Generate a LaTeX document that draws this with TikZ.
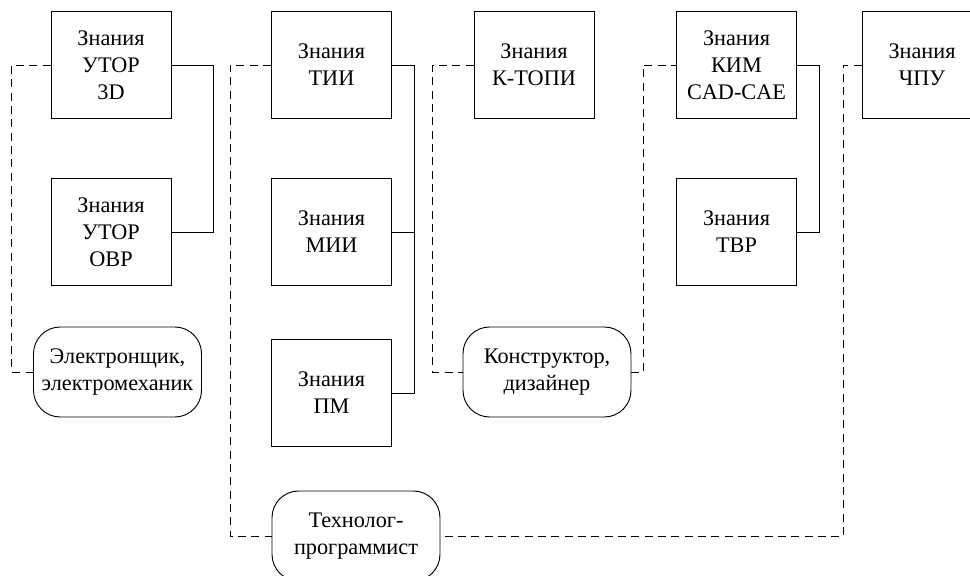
\documentclass[tikz,border=0pt]{standalone}
\usepackage{fontspec}
\setmainfont{Liberation Serif}
\usetikzlibrary{calc, positioning}

\begin{document}
\begin{tikzpicture}[% styles used in image code
  x = 0.3mm, y = -0.3mm,
box/.style  = {draw, line width=0.8pt,
               minimum width=36mm, minimum height=32mm,
               inner sep=0pt, align=center,
               font=\fontsize{19}{23}\selectfont},
role/.style = {draw, line width=0.8pt, rounded corners=8mm,
               minimum width=50.4mm, minimum height=27mm,
               inner sep=0pt, align=center,
               font=\fontsize{19}{23}\selectfont},
link/.style = {line width=0.8pt},
dlink/.style = {line width=0.8pt, dash pattern=on 2.4mm off 1.6mm}
                    ]
	% frame of the picture
	\useasboundingbox (0,0) rectangle (970,576);
	\clip (0,0) rectangle (970,576);

	% knowledge boxes
	\node[box] (z3d)   at (111,65)   {Знания\\УТОР\\3D};
	\node[box] (zovr)  at (111,232)  {Знания\\УТОР\\ОВР};
	\node[box] (ztii)  at (331.5,65) {Знания\\ТИИ};
	\node[box] (zmii)  at (331.5,232) {Знания\\МИИ};
	\node[box] (zpm)   at (331.5,393) {Знания\\ПМ};
	\node[box] (zktopi) at (534,65)  {Знания\\К-ТОПИ};
	\node[box] (zkim)  at (736.5,65) {Знания\\КИМ\\CAD-CAE};
	\node[box] (ztvr)  at (736.5,232) {Знания\\ТВР};
	\node[box] (zchpu) at (922,65)   {Знания\\ЧПУ};

	% professions
	\node[role] (el) at (117.5,372) {Электронщик,\\электромеханик};
	\node[role] (kd) at (547,372)   {Конструктор,\\дизайнер};
	\node[role] (tp) at (356,536)   {Технолог-\\программист};

	% solid links
	\draw[link] (z3d.east) -- ++(42,0) |- (zovr.east);
	\draw[link] (ztii.east) -- ++(22,0) coordinate (bus) |- (zpm.east);
	\draw[link] (zmii.east) -- (zmii.east -| bus);
	\draw[link] (zkim.east) -- ++(22,0) |- (ztvr.east);

	% dashed links
	\draw[dlink] (z3d.west) -- ++(-39,0) |- (el.west);
	\draw[dlink] (ztii.west) -- ++(-41,0) |- (tp.west);
	\draw[dlink] (zktopi.west) -- ++(-41,0) |- (kd.west);
	\draw[dlink] (kd.east) -- ++(12,0) |- (zkim.west);
	\draw[dlink] (zchpu.west) -- ++(-18,0) |- (tp.east);
\end{tikzpicture}
\end{document}
